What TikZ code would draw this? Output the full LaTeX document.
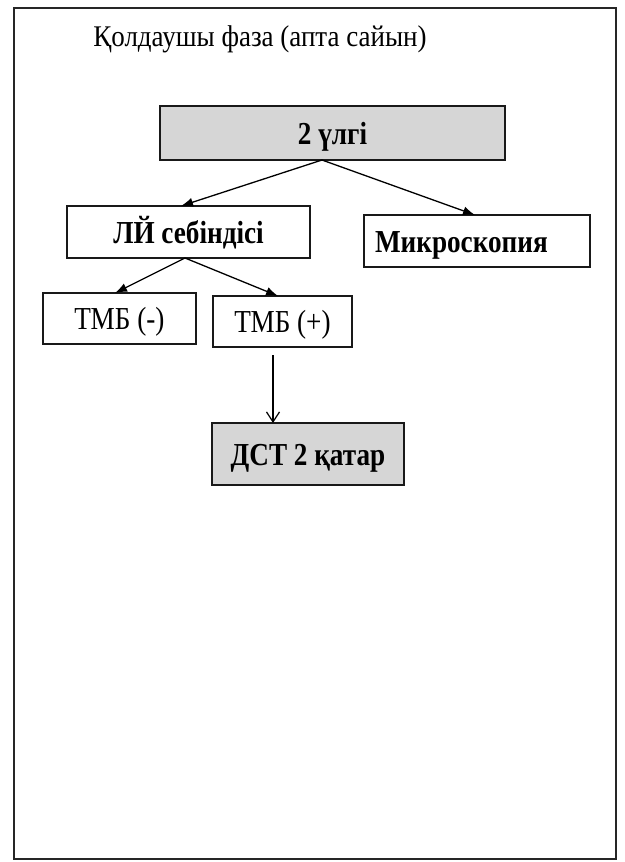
\documentclass[tikz,border=0pt]{standalone}
\usepackage{fontspec}
\setmainfont{Liberation Serif}
\newfontfamily\bodyfont[FakeStretch=0.85]{Liberation Serif}
\newfontfamily\titlefont[FakeStretch=0.9]{Liberation Serif}
\usetikzlibrary{arrows.meta}
\begin{document}
\begin{tikzpicture}[x=1pt,y=-1pt,
  box/.style={draw=black!90, line width=1.4pt, inner sep=0pt, outer sep=0pt,
              text height=22pt, text depth=0pt,
              font=\bodyfont\bfseries\fontsize{32}{36}\selectfont},
  gbox/.style={box, fill=black!16},
  pbox/.style={box, font=\bodyfont\fontsize{32}{36}\selectfont},
  arr/.style={line width=1.3pt, -{Latex[length=12pt,width=9pt]}},
  varr/.style={line width=1.2pt, -{Straight Barb[length=10pt,width=13pt]}}]
\useasboundingbox (0,0) rectangle (624,862);
\node[draw=black!85, line width=1.4pt, minimum width=602pt, minimum height=851pt, inner sep=0pt] (frame) at (315,433.5) {};
\node[anchor=base, font=\titlefont\fontsize{30}{34}\selectfont, inner sep=0pt] (title) at (260,46.7) {Қолдаушы фаза (апта сайын)};
\node[gbox, minimum width=345pt, minimum height=54pt] (b1) at (332.5,133) {2 үлгі};
\node[box, minimum width=243pt, minimum height=52pt] (b2) at (188.5,232) {ЛЙ себіндісі};
\node[box, text width=204pt, inner xsep=11pt, align=left, minimum height=52pt] (b3) at (477,241) {Микроскопия};
\node[pbox, minimum width=153pt, minimum height=51pt] (b4) at (119.5,318.5) {ТМБ (-)};
\node[pbox, minimum width=139pt, minimum height=51pt] (b5) at (282.5,321.5) {ТМБ (+)};
\node[gbox, minimum width=192pt, minimum height=62pt] (b6) at (308,454) {ДСТ 2 қатар};
\draw[arr] ([xshift=-10.5pt]b1.south) -- ([xshift=-7.5pt]b2.north);
\draw[arr] ([xshift=-10.5pt]b1.south) -- ([xshift=-2pt]b3.north);
\draw[arr] ([xshift=-3.5pt]b2.south) -- ([xshift=-4.5pt]b4.north);
\draw[arr] ([xshift=-3.5pt]b2.south) -- ([xshift=-4.5pt]b5.north);
\draw[varr] ([xshift=-9.5pt,yshift=-8pt]b5.south) -- ([xshift=-35pt]b6.north);
\end{tikzpicture}
\end{document}
